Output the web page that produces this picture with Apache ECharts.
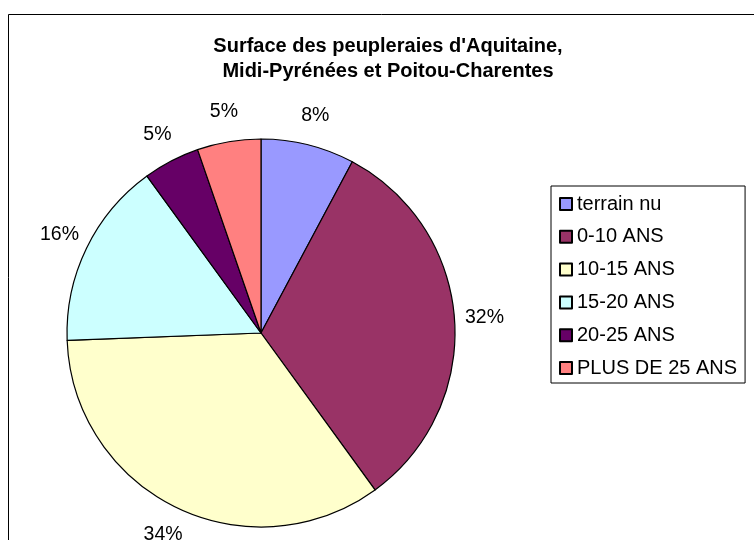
<!DOCTYPE html>
<html>
<head>
<meta charset="utf-8">
<script src="https://cdn.jsdelivr.net/npm/echarts@6/dist/echarts.min.js"></script>
<style>
html, body { margin: 0; padding: 0; background: #ffffff; }
#chart { width: 754px; height: 540px; }
</style>
</head>
<body>
<div id="chart"></div>
<script>
// Poplar plantation area by stand age (share of total, %)
const categories = ['terrain nu', '0-10 ANS', '10-15 ANS', '15-20 ANS', '20-25 ANS', 'PLUS DE 25 ANS'];
const shares = [7.8, 32.2, 34.4, 15.6, 4.7, 5.3];
const sliceColors = ['#9999FF', '#993366', '#FFFFCC', '#CCFFFF', '#660066', '#FF8080'];

const chart = echarts.init(document.getElementById('chart'), null, { renderer: 'canvas' });

const font = 'Liberation Sans, Arial, sans-serif';
const pieCenter = [261, 333];
const pieRadius = 194;

const sliceData = categories.map((name, i) => ({
  name: name,
  value: shares[i],
  itemStyle: { color: sliceColors[i] }
}));

chart.setOption({
  animation: false,
  backgroundColor: '#ffffff',
  title: {
    text: "Surface des peupleraies d'Aquitaine,\nMidi-Pyrénées et Poitou-Charentes",
    left: 383,
    top: 29,
    textAlign: 'center',
    textStyle: {
      fontFamily: font,
      fontSize: 20,
      fontWeight: 'bold',
      color: '#000000',
      lineHeight: 25
    }
  },
  graphic: [{
    // chart-area frame (runs past the right and bottom edges of the page)
    type: 'rect',
    shape: { x: 8.5, y: 14.5, width: 800, height: 600 },
    style: { fill: null, stroke: '#000000', lineWidth: 1 },
    silent: true,
    z: 100
  }],
  legend: {
    orient: 'vertical',
    left: 551,
    top: 186,
    padding: [8, 8, 5, 8],
    itemGap: 12.8,
    itemWidth: 12,
    itemHeight: 12,
    icon: 'rect',
    borderColor: '#000000',
    borderWidth: 1,
    textStyle: { fontFamily: font, fontSize: 20, color: '#000000' },
    data: categories
  },
  series: [{
    // the pie itself
    type: 'pie',
    center: pieCenter,
    radius: pieRadius,
    startAngle: 90,
    clockwise: true,
    label: { show: false },
    labelLine: { show: false },
    itemStyle: { borderColor: '#000000', borderWidth: 1.2 },
    emphasis: { disabled: true },
    data: sliceData
  }, {
    // percentage labels, centred on a ring just outside the pie
    type: 'pie',
    center: pieCenter,
    radius: [pieRadius + 20, pieRadius + 34],
    startAngle: 90,
    clockwise: true,
    silent: true,
    legendHoverLink: false,
    itemStyle: { color: 'rgba(0,0,0,0)', borderWidth: 0 },
    label: {
      show: true,
      position: 'inside',
      rotate: 0,
      formatter: (p) => Math.round(p.value) + '%',
      fontFamily: font,
      fontSize: 19.5,
      color: '#000000'
    },
    labelLine: { show: false },
    emphasis: { disabled: true },
    data: categories.map((name, i) => ({ name: name, value: shares[i] }))
  }]
});
</script>
</body>
</html>
